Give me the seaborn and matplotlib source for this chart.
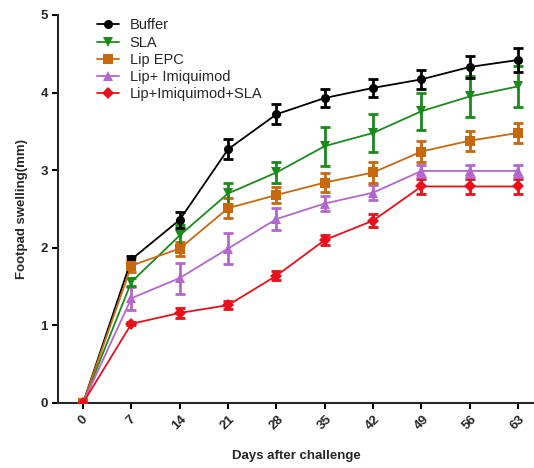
import numpy as np
import pandas as pd
import matplotlib
matplotlib.use("Agg")
import matplotlib.pyplot as plt
import seaborn as sns

days = [0, 7, 14, 21, 28, 35, 42, 49, 56, 63]
groups = ["Buffer", "SLA", "Lip EPC", "Lip+ Imiquimod", "Lip+Imiquimod+SLA"]

buffer_mean = [0, 1.85, 2.36, 3.27, 3.72, 3.93, 4.06, 4.17, 4.33, 4.42]
buffer_err = [0, 0.05, 0.10, 0.13, 0.13, 0.12, 0.12, 0.12, 0.14, 0.15]
sla_mean = [0, 1.56, 2.16, 2.70, 2.97, 3.31, 3.48, 3.76, 3.95, 4.08]
sla_err = [0, 0.05, 0.13, 0.14, 0.14, 0.25, 0.24, 0.24, 0.26, 0.26]
epc_mean = [0, 1.77, 1.99, 2.51, 2.68, 2.84, 2.97, 3.24, 3.38, 3.48]
epc_err = [0, 0.08, 0.09, 0.13, 0.10, 0.12, 0.13, 0.13, 0.13, 0.13]
imq_mean = [0, 1.35, 1.61, 1.99, 2.37, 2.57, 2.71, 2.99, 2.99, 2.99]
imq_err = [0, 0.15, 0.20, 0.20, 0.14, 0.10, 0.10, 0.08, 0.08, 0.08]
imqsla_mean = [0, 1.02, 1.16, 1.26, 1.64, 2.10, 2.35, 2.79, 2.79, 2.79]
imqsla_err = [0, 0.02, 0.06, 0.05, 0.06, 0.07, 0.08, 0.10, 0.10, 0.10]

means = [buffer_mean, sla_mean, epc_mean, imq_mean, imqsla_mean]
errs = [buffer_err, sla_err, epc_err, imq_err, imqsla_err]
colors = ["#000000", "#1a8a1a", "#c8680c", "#b566cc", "#e8101a"]
markers = ["o", "v", "s", "^", "D"]

rows = []
for g, m, e in zip(groups, means, errs):
    for d, v, s in zip(days, m, e):
        rows.append({"Day": d, "Group": g, "Mean": v, "Err": s})
df = pd.DataFrame(rows)

sns.set_style("ticks")
plt.rcParams["font.family"] = ["Liberation Sans", "DejaVu Sans"]

fig = plt.figure(figsize=(5.34, 4.68), dpi=100)
ax = fig.add_axes([0.109, 0.139, 0.891, 0.829])

for g, c in reversed(list(zip(groups, colors))):
    sub = df[df["Group"] == g]
    ax.errorbar(sub["Day"], sub["Mean"], yerr=sub["Err"], fmt="none",
                ecolor=c, elinewidth=2.0, capsize=3.5, capthick=2.0, zorder=2)

palette = dict(zip(groups, colors))
sns.lineplot(data=df, x="Day", y="Mean", hue="Group", style="Group",
             hue_order=groups, style_order=groups, palette=palette,
             markers=dict(zip(groups, markers)), dashes=False,
             markersize=6.5, linewidth=1.3, markeredgewidth=0,
             errorbar=None, ax=ax, zorder=3)

ax.set_xlim(-3.6, 65.3)
ax.set_ylim(0, 5)
ax.set_xticks(days)
ax.set_xticklabels([str(d) for d in days], rotation=45, ha="center",
                   fontsize=9.5, fontweight="bold")
ax.set_yticks([0, 1, 2, 3, 4, 5])
ax.set_yticklabels(["0", "1", "2", "3", "4", "5"], fontsize=9.5, fontweight="bold")
ax.set_xlabel("Days after challenge", fontsize=9.5, fontweight="bold", labelpad=13)
ax.set_ylabel("Footpad swelling(mm)", fontsize=9.5, fontweight="bold", labelpad=9)
ax.spines["top"].set_visible(False)
ax.spines["right"].set_visible(False)
for sp in ["left", "bottom"]:
    ax.spines[sp].set_linewidth(1.5)
ax.tick_params(axis="both", width=1.5, length=4, color="black")

leg = ax.legend(loc="upper left", bbox_to_anchor=(0.055, 1.025), frameon=False,
                fontsize=10.5, handlelength=1.5, handletextpad=0.7,
                labelspacing=0.22, title=None)

fig.savefig("out.png", dpi=100)
